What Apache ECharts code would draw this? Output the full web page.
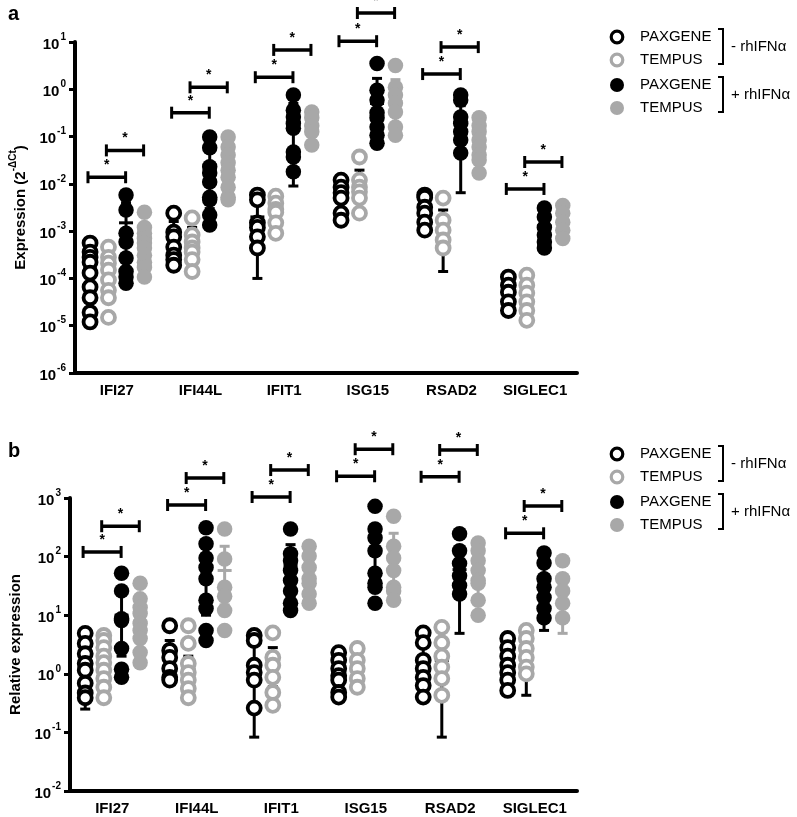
<!DOCTYPE html>
<html><head><meta charset="utf-8">
<script src="https://cdn.jsdelivr.net/npm/echarts@6/dist/echarts.min.js"></script>
<style>html,body{margin:0;padding:0;background:#fff}#c{width:797px;height:817px}</style>
</head><body><div id="c"></div>
<script>
const genes = ['IFI27','IFI44L','IFIT1','ISG15','RSAD2','SIGLEC1'];

// ---- Panel a: Expression (2^-dCt) ----
const a_paxMinus = [
  [5.6e-4,3.6e-4,2.8e-4,2.2e-4,1.3e-4,6.6e-5,3.9e-5,1.9e-5,1.2e-5],
  [2.4e-3,9.5e-4,7.6e-4,4.6e-4,3.1e-4,2.5e-4,1.9e-4],
  [5.8e-3,4.6e-3,1.5e-3,1.2e-3,7.6e-4,4.4e-4],
  [0.012,8.5e-3,6.5e-3,5e-3,2.4e-3,1.7e-3],
  [5.8e-3,5.2e-3,3.2e-3,2.4e-3,1.55e-3,1.05e-3],
  [1.07e-4,7.2e-5,5.1e-5,3.2e-5,2.1e-5]
];
const a_temMinus = [
  [4.6e-4,2.8e-4,2.1e-4,1.5e-4,9.3e-5,5.6e-5,3.9e-5,1.5e-5],
  [1.9e-3,8.3e-4,5.9e-4,4.4e-4,3.6e-4,2.5e-4,1.4e-4],
  [5.5e-3,3.9e-3,2.9e-3,2.5e-3,1.5e-3,9e-4],
  [0.037,0.012,8.5e-3,6.8e-3,5e-3,2.4e-3],
  [5e-3,1.7e-3,1.05e-3,6.5e-4,4.4e-4],
  [1.17e-4,7.2e-5,4.9e-5,3.2e-5,2.1e-5,1.3e-5]
];
const a_paxPlus = [
  [5.8e-3,2.8e-3,9e-4,5.9e-4,2.7e-4,1.4e-4,1.07e-4,7.9e-5],
  [0.098,0.058,0.023,0.017,0.011,5.2e-3,4.6e-3,2.2e-3,1.35e-3],
  [0.76,0.36,0.26,0.19,0.15,0.047,0.037,0.018],
  [3.5,0.95,0.59,0.32,0.25,0.16,0.107,0.072],
  [0.76,0.59,0.26,0.19,0.126,0.085,0.045],
  [3.1e-3,2e-3,1.2e-3,8.3e-4,5.9e-4,4.4e-4]
];
const a_temPlus = [
  [2.5e-3,1.2e-3,9e-4,7e-4,5.6e-4,4.4e-4,3.1e-4,2.2e-4,1.7e-4,1.07e-4],
  [0.098,0.06,0.041,0.028,0.0195,0.0138,8.5e-3,5.2e-3,4.6e-3],
  [0.33,0.25,0.17,0.126,0.066],
  [3.2,1.1,0.76,0.51,0.33,0.16,0.107],
  [0.25,0.17,0.126,0.085,0.06,0.041,0.032,0.017],
  [3.5e-3,2.4e-3,1.55e-3,1.05e-3,7e-4]
];
// mean, lower, upper (SD) per gene
const a_paxMinusSD = [[1.6e-4,5e-5,4e-4],[7e-4,3e-4,1.6e-3],[2e-3,1e-4,4e-3],[6e-3,2e-3,0.01],[2.5e-3,1.2e-3,5e-3],[5e-5,2.5e-5,9e-5]];
const a_temMinusSD = [[1.5e-4,5e-5,3.5e-4],[6e-4,2.5e-4,1.2e-3],[2.8e-3,1.2e-3,4.5e-3],[0.011,3e-3,0.0195],[1.6e-3,1.4e-4,2.8e-3],[5e-5,2e-5,9e-5]];
const a_paxPlusSD  = [[1.5e-3,3e-4,4e-3],[0.025,3e-3,0.06],[0.2,0.009,0.5],[0.5,0.1,1.7],[0.2,6.5e-3,0.45],[1.3e-3,5e-4,2.5e-3]];
const a_temPlusSD  = [[6e-4,2e-4,1.3e-3],[0.028,6e-3,0.06],[0.17,0.08,0.3],[0.55,0.15,1.6],[0.08,0.03,0.15],[1.6e-3,8e-4,2.8e-3]];
const a_sigLow  = [0.0138,0.32,1.8,10.4,2.1,7.8e-3];
const a_sigHigh = [0.051,1.1,6.8,41,7.8,0.029];

// ---- Panel b: Relative expression ----
const b_paxMinus = [
  [4.9,3.3,2.2,1.5,1.15,0.69,0.47,0.39],
  [6.6,2.5,1.9,1.23,0.87,0.78],
  [4.5,3.7,1.4,1.05,0.78,0.26],
  [2.3,1.7,1.23,0.93,0.78,0.48,0.40],
  [5.0,3.4,1.7,1.23,0.87,0.63,0.40],
  [4.0,2.8,2.0,1.4,1.05,0.78,0.52]
];
const b_temMinus = [
  [4.5,3.7,2.8,2.0,1.55,1.15,0.83,0.59,0.39],
  [6.6,3.3,1.5,1.05,0.78,0.56,0.39],
  [5.0,1.9,1.4,0.87,0.48,0.29],
  [2.7,1.7,1.23,0.83,0.59],
  [6.2,3.4,2.0,1.3,0.83,0.43],
  [5.5,4.0,2.7,1.9,1.3,1.0]
];
const b_paxPlus = [
  [52,26,8.7,8.1,2.7,1.2,0.87],
  [310,166,95,65,42,18,13,5.5,3.7],
  [295,112,85,58,39,26,16,12],
  [720,295,210,126,52,35,30,16],
  [245,126,76,47,32,23],
  [115,78,42,30,20,13,9]
];
const b_temPlus = [
  [35,19,13.5,10.7,7.2,5.5,4.0,2.3,1.55],
  [295,91,30,21,12,5.5],
  [150,102,65,42,35,23,16],
  [490,150,95,58,30,26,18],
  [170,126,85,58,39,35,18,10],
  [85,42,26,16,9]
];
const b_paxMinusSD = [[1.6,0.25,3.5],[2,0.8,3.7],[1.4,0.083,3.8],[1.1,0.6,1.8],[1.8,0.6,3.5],[1.7,0.8,3]];
const b_temMinusSD = [[1.5,0.5,3.0],[1.2,0.5,2.0],[1.4,0.6,2.8],[1.3,0.8,2.2],[1.7,0.083,3.5],[2.0,0.43,3.5]];
const b_paxPlusSD  = [[10,2,26],[70,10,150],[70,20,160],[120,30,330],[60,4.9,130],[30,5.5,70]];
const b_temPlusSD  = [[8,2.5,19],[58,15,150],[60,25,120],[100,30,250],[60,20,110],[28,4.9,47]];
const b_sigLow  = [120,760,1040,2350,2300,250];
const b_sigHigh = [330,2190,3000,6800,6600,730];

// ---- rendering ----
const FONT = 'Liberation Sans, Arial, Helvetica, sans-serif';
const BLACK = '#000000', GRAY = '#a8a8a8';
const OFF = [-0.32, -0.10, 0.11, 0.33];

function pts(arr, off){ const out=[]; arr.forEach((vals,g)=>vals.forEach(v=>out.push([g+off,v]))); return out; }
function sdPts(arr, off){ return arr.map((r,g)=>[g+off,r[0],r[1],r[2]]); }

function scatter(panel, arr, k, filled, color){
  return {
    type:'scatter', xAxisIndex: panel*2+1, yAxisIndex: panel, z: 3,
    data: pts(arr, OFF[k]),
    symbol:'circle', symbolSize: filled ? 15.5 : 13,
    itemStyle: filled ? {color: color, opacity:1} : {color:'#ffffff', borderColor: color, borderWidth: 3.8, opacity:1},
    emphasis:{disabled:true}, animation:false
  };
}
function errbar(panel, arr, k, color){
  return {
    type:'custom', xAxisIndex: panel*2+1, yAxisIndex: panel, z: 2, animation:false,
    data: sdPts(arr, OFF[k]),
    encode:{x:0, y:[1,2,3]},
    renderItem:(params, api)=>{
      const x=api.value(0);
      const pm=api.coord([x,api.value(1)]), pl=api.coord([x,api.value(2)]), ph=api.coord([x,api.value(3)]);
      const st={stroke:color, lineWidth:3};
      return {type:'group', children:[
        {type:'line', shape:{x1:pl[0],y1:pl[1],x2:ph[0],y2:ph[1]}, style:st},
        {type:'line', shape:{x1:pl[0]-5,y1:pl[1],x2:pl[0]+5,y2:pl[1]}, style:st},
        {type:'line', shape:{x1:ph[0]-5,y1:ph[1],x2:ph[0]+5,y2:ph[1]}, style:st},
        {type:'line', shape:{x1:pm[0]-7,y1:pm[1],x2:pm[0]+7,y2:pm[1]}, style:st}
      ]};
    }
  };
}
function brackets(panel, low, high){
  const data=[];
  low.forEach((y,g)=>data.push([g-0.345, g+0.105, y]));
  high.forEach((y,g)=>data.push([g-0.125, g+0.32, y]));
  return {
    type:'custom', xAxisIndex: panel*2+1, yAxisIndex: panel, z: 5, animation:false, clip:false,
    data, encode:{x:[0,1], y:2},
    renderItem:(params, api)=>{
      const p1=api.coord([api.value(0),api.value(2)]), p2=api.coord([api.value(1),api.value(2)]);
      const st={stroke:'#000', lineWidth:3.5};
      return {type:'group', children:[
        {type:'line', shape:{x1:p1[0],y1:p1[1],x2:p2[0],y2:p2[1]}, style:st},
        {type:'line', shape:{x1:p1[0],y1:p1[1]-6,x2:p1[0],y2:p1[1]+6}, style:{stroke:'#000',lineWidth:3}},
        {type:'line', shape:{x1:p2[0],y1:p2[1]-6,x2:p2[0],y2:p2[1]+6}, style:{stroke:'#000',lineWidth:3}},
        {type:'text', x:(p1[0]+p2[0])/2, y:p1[1]-5, style:{text:'*', fill:'#000', font:'bold 14px '+FONT, align:'center', verticalAlign:'bottom'}}
      ]};
    }
  };
}

function expLabel(v){ const e=Math.round(Math.log10(v)); return '{b|10}{s|'+e+'}'; }
const richTick = {
  b:{fontSize:15, fontWeight:'bold', fontFamily:FONT, color:'#000', lineHeight:20, verticalAlign:'bottom'},
  s:{fontSize:10, fontWeight:'bold', fontFamily:FONT, color:'#000', lineHeight:20, verticalAlign:'top', padding:[0,0,0,1]}
};

function catAxis(grid){
  return {type:'category', gridIndex:grid, data:genes, boundaryGap:true,
    axisLine:{lineStyle:{color:'#000', width:4}},
    axisTick:{alignWithLabel:true, length:5, lineStyle:{color:'#000', width:3}},
    axisLabel:{color:'#000', fontSize:15, fontWeight:'bold', fontFamily:FONT, margin:10},
    splitLine:{show:false}};
}
function valAxis(grid){ return {type:'value', gridIndex:grid, min:-0.5, max:5.5, show:false}; }
function logAxis(grid, min, max, name, nameRich){
  return {type:'log', logBase:10, gridIndex:grid, min, max,
    axisLine:{show:true, onZero:false, lineStyle:{color:'#000', width:4}},
    axisTick:{show:true, length:6, lineStyle:{color:'#000', width:3}},
    minorTick:{show:false},
    axisLabel:{formatter:expLabel, rich:richTick, margin:9},
    splitLine:{show:false},
    name, nameLocation:'middle', nameRotate:90, nameGap:47,
    nameTextStyle:{rich:nameRich}};
}
const nameRich = {
  n:{fontSize:15, fontWeight:'bold', fontFamily:FONT, color:'#000', lineHeight:20, verticalAlign:'bottom'},
  s:{fontSize:10, fontWeight:'bold', fontFamily:FONT, color:'#000', lineHeight:20, verticalAlign:'top'}
};

function legendGraphics(dy){
  const rows=[37,60,85,108].map(y=>y+dy);
  const mx=617, tx=640;
  const g=[];
  const items=[['PAXGENE',BLACK,false],['TEMPUS',GRAY,false],['PAXGENE',BLACK,true],['TEMPUS',GRAY,true]];
  items.forEach((it,i)=>{
    g.push({type:'circle', shape:{cx:mx, cy:rows[i], r: it[2]?7:5.8},
      style: it[2]?{fill:it[1]}:{fill:'none', stroke:it[1], lineWidth:3.2}});
    g.push({type:'text', x:tx, y:rows[i], style:{text:it[0], font:'15px '+FONT, fill:'#000', verticalAlign:'middle'}});
  });
  [[rows[0]-8, rows[1]+4, '- rhIFNα'],[rows[2]-8, rows[3]+4, '+ rhIFNα']].forEach(b=>{
    g.push({type:'polyline', shape:{points:[[718,b[0]],[723,b[0]],[723,b[1]],[718,b[1]]]}, style:{stroke:'#000', lineWidth:2, fill:null}});
    g.push({type:'text', x:731, y:(b[0]+b[1])/2, style:{text:b[2], font:'15px '+FONT, fill:'#000', verticalAlign:'middle'}});
  });
  return g;
}

const chart = echarts.init(document.getElementById('c'), null, {renderer:'canvas'});
const series = [];
[[0,a_paxMinus,a_temMinus,a_paxPlus,a_temPlus,a_paxMinusSD,a_temMinusSD,a_paxPlusSD,a_temPlusSD,a_sigLow,a_sigHigh],
 [1,b_paxMinus,b_temMinus,b_paxPlus,b_temPlus,b_paxMinusSD,b_temMinusSD,b_paxPlusSD,b_temPlusSD,b_sigLow,b_sigHigh]]
.forEach(p=>{
  const [pi,pm,tm,pp,tp,pmS,tmS,ppS,tpS,lo,hi]=p;
  series.push(scatter(pi,pm,0,false,BLACK), scatter(pi,tm,1,false,GRAY), scatter(pi,pp,2,true,BLACK), scatter(pi,tp,3,true,GRAY));
  series.push(errbar(pi,pmS,0,BLACK), errbar(pi,tmS,1,BLACK), errbar(pi,ppS,2,BLACK), errbar(pi,tpS,3,GRAY));
  series.push(brackets(pi,lo,hi));
});

chart.setOption({
  animation:false,
  backgroundColor:'#fff',
  grid:[{left:63, top:42, width:514, height:331}, {left:63, top:498, width:514, height:293}],
  xAxis:[catAxis(0), valAxis(0), catAxis(1), valAxis(1)],
  yAxis:[logAxis(0,1e-6,10,'{n|Expression (2}{s|-ΔCt}{n|)}',nameRich), logAxis(1,0.01,1000,'{n|Relative expression}',nameRich)],
  graphic:[
    {type:'text', left:8, top:4, style:{text:'a', font:'bold 20px '+FONT, fill:'#000'}},
    {type:'text', left:8, top:441, style:{text:'b', font:'bold 20px '+FONT, fill:'#000'}},
    ...legendGraphics(0), ...legendGraphics(417)
  ],
  series
});
</script>
</body></html>
